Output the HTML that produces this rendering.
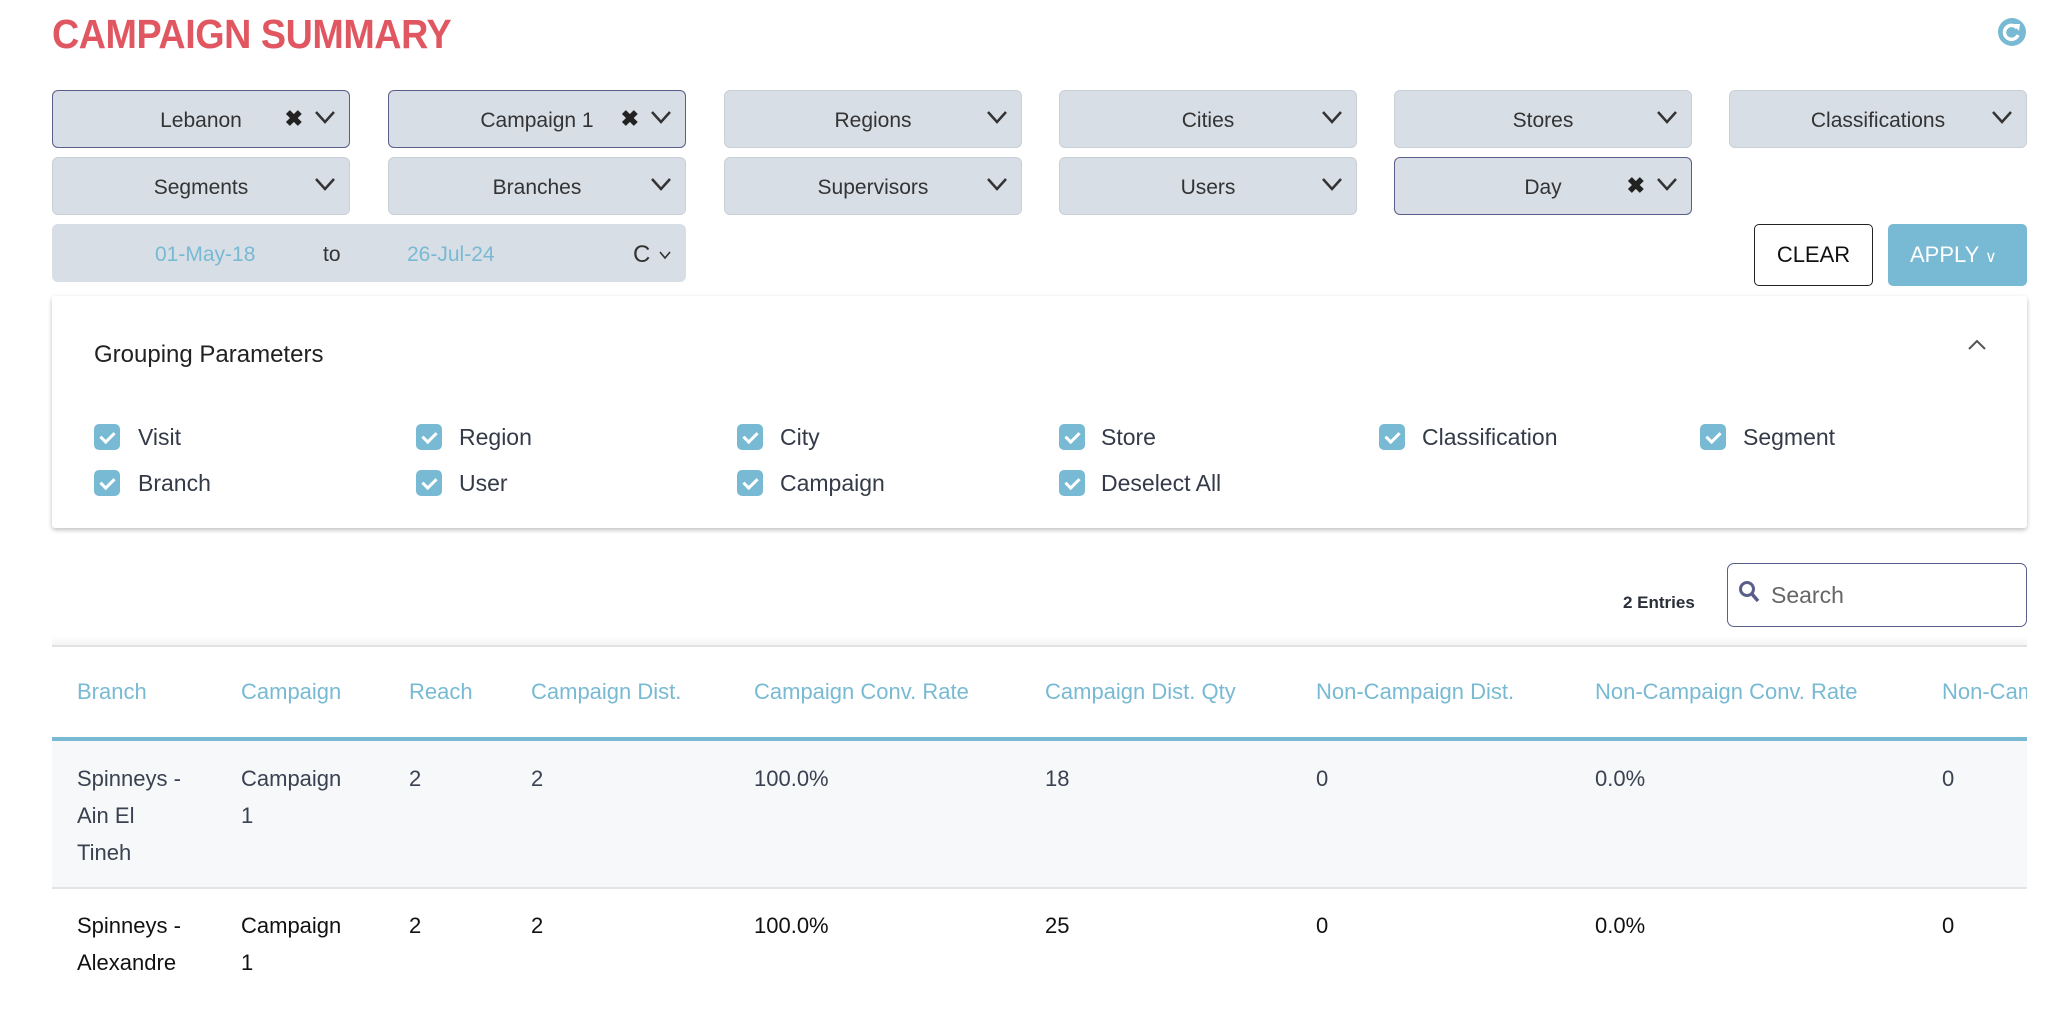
<!DOCTYPE html>
<html><head><meta charset="utf-8"><style>
*{box-sizing:border-box;margin:0;padding:0}
body{width:2056px;height:1026px;background:#fff;position:relative;overflow:hidden;font-family:"Liberation Sans",sans-serif;color:#333}
.a{position:absolute}
.title{left:52px;top:11px;font-size:41px;font-weight:bold;color:#e05762;transform:scaleX(0.92);transform-origin:left;letter-spacing:-0.5px}
.dd{position:absolute;width:298px;height:58px;background:#d8dee6;border:1px solid #c9cfd6;border-radius:6px;font-size:21px;color:#333}
.dd.sel{border-color:#5a5f8a}
.dd .t{position:absolute;left:0;right:0;top:18px;text-align:center}
.dd .ch{position:absolute;right:12px;top:18px;width:24px;height:16px}
.dd .x{position:absolute;right:46px;top:15px;font-size:22px;font-weight:bold;color:#222}
.cb{position:absolute;width:26px;height:26px;background:#78bad3;border-radius:5px}
.cb:after{content:"";position:absolute;left:9px;top:5px;width:6px;height:11px;border:solid #fff;border-width:0 3px 3px 0;transform:rotate(45deg)}
.lbl{position:absolute;font-size:23px;color:#343a48}
.th{position:absolute;top:679px;font-size:22px;color:#78bad3;white-space:nowrap}
.td{position:absolute;font-size:22px;color:#3a4150;line-height:37px;white-space:nowrap}
.td2{position:absolute;font-size:22px;color:#111;line-height:37px;white-space:nowrap}
</style></head><body>
<div class="a title">CAMPAIGN SUMMARY</div>
<svg class="a" style="left:1998px;top:18px" width="28" height="28" viewBox="0 0 28 28"><circle cx="14" cy="14" r="14" fill="#78bad3"/><path d="M19 10 A7 7 0 1 0 20 17" stroke="#fff" stroke-width="3.5" fill="none"/><path d="M15 6 L22 6 L21 13 Z" fill="#fff"/></svg>

<div class="dd sel" style="left:52px;top:90px"><div class="t">Lebanon</div><div class="x">✖</div><svg class="ch" viewBox="0 0 24 16"><path d="M3 3 L12 13 L21 3" stroke="#333" stroke-width="2.5" fill="none"/></svg></div>
<div class="dd sel" style="left:388px;top:90px"><div class="t">Campaign 1</div><div class="x">✖</div><svg class="ch" viewBox="0 0 24 16"><path d="M3 3 L12 13 L21 3" stroke="#333" stroke-width="2.5" fill="none"/></svg></div>
<div class="dd" style="left:724px;top:90px"><div class="t">Regions</div><svg class="ch" viewBox="0 0 24 16"><path d="M3 3 L12 13 L21 3" stroke="#333" stroke-width="2.5" fill="none"/></svg></div>
<div class="dd" style="left:1059px;top:90px"><div class="t">Cities</div><svg class="ch" viewBox="0 0 24 16"><path d="M3 3 L12 13 L21 3" stroke="#333" stroke-width="2.5" fill="none"/></svg></div>
<div class="dd" style="left:1394px;top:90px"><div class="t">Stores</div><svg class="ch" viewBox="0 0 24 16"><path d="M3 3 L12 13 L21 3" stroke="#333" stroke-width="2.5" fill="none"/></svg></div>
<div class="dd" style="left:1729px;top:90px"><div class="t">Classifications</div><svg class="ch" viewBox="0 0 24 16"><path d="M3 3 L12 13 L21 3" stroke="#333" stroke-width="2.5" fill="none"/></svg></div>
<div class="dd" style="left:52px;top:157px"><div class="t">Segments</div><svg class="ch" viewBox="0 0 24 16"><path d="M3 3 L12 13 L21 3" stroke="#333" stroke-width="2.5" fill="none"/></svg></div>
<div class="dd" style="left:388px;top:157px"><div class="t">Branches</div><svg class="ch" viewBox="0 0 24 16"><path d="M3 3 L12 13 L21 3" stroke="#333" stroke-width="2.5" fill="none"/></svg></div>
<div class="dd" style="left:724px;top:157px"><div class="t">Supervisors</div><svg class="ch" viewBox="0 0 24 16"><path d="M3 3 L12 13 L21 3" stroke="#333" stroke-width="2.5" fill="none"/></svg></div>
<div class="dd" style="left:1059px;top:157px"><div class="t">Users</div><svg class="ch" viewBox="0 0 24 16"><path d="M3 3 L12 13 L21 3" stroke="#333" stroke-width="2.5" fill="none"/></svg></div>
<div class="dd sel" style="left:1394px;top:157px"><div class="t">Day</div><div class="x">✖</div><svg class="ch" viewBox="0 0 24 16"><path d="M3 3 L12 13 L21 3" stroke="#333" stroke-width="2.5" fill="none"/></svg></div>
<div class="dd" style="left:52px;top:224px;width:634px;border-color:#d8dee6">
<div class="a" style="left:102px;top:18px;color:#78bad3">01-May-18</div>
<div class="a" style="left:270px;top:18px">to</div>
<div class="a" style="left:354px;top:18px;color:#78bad3">26-Jul-24</div>
<div class="a" style="left:580px;top:16px;font-size:24px">C</div>
<svg class="a" style="left:605px;top:25px" width="14" height="10" viewBox="0 0 14 10"><path d="M2 2 L7 8 L12 2" stroke="#333" stroke-width="1.6" fill="none"/></svg>
</div>
<div class="a" style="left:1754px;top:224px;width:119px;height:62px;border:1.5px solid #222;border-radius:5px;font-size:22px;color:#111;text-align:center;line-height:60px">CLEAR</div>
<div class="a" style="left:1888px;top:224px;width:139px;height:62px;background:#78bad3;border-radius:5px;font-size:22px;color:#fff;line-height:62px;padding-left:22px">APPLY <span style="font-size:16px">&#8744;</span></div>

<div class="a" style="left:52px;top:296px;width:1975px;height:232px;background:#fff;box-shadow:0 2px 5px rgba(0,0,0,0.25);border-radius:3px"></div>
<div class="a" style="left:94px;top:341px;font-size:24px;color:#222">Grouping Parameters</div>
<svg class="a" style="left:1966px;top:338px" width="22" height="14" viewBox="0 0 22 14"><path d="M3 11 L11 3 L19 11" stroke="#555" stroke-width="2" fill="none"/></svg>
<div class="cb" style="left:94px;top:424px"></div><div class="lbl" style="left:138px;top:424px">Visit</div>
<div class="cb" style="left:416px;top:424px"></div><div class="lbl" style="left:459px;top:424px">Region</div>
<div class="cb" style="left:737px;top:424px"></div><div class="lbl" style="left:780px;top:424px">City</div>
<div class="cb" style="left:1059px;top:424px"></div><div class="lbl" style="left:1101px;top:424px">Store</div>
<div class="cb" style="left:1379px;top:424px"></div><div class="lbl" style="left:1422px;top:424px">Classification</div>
<div class="cb" style="left:1700px;top:424px"></div><div class="lbl" style="left:1743px;top:424px">Segment</div>
<div class="cb" style="left:94px;top:470px"></div><div class="lbl" style="left:138px;top:470px">Branch</div>
<div class="cb" style="left:416px;top:470px"></div><div class="lbl" style="left:459px;top:470px">User</div>
<div class="cb" style="left:737px;top:470px"></div><div class="lbl" style="left:780px;top:470px">Campaign</div>
<div class="cb" style="left:1059px;top:470px"></div><div class="lbl" style="left:1101px;top:470px">Deselect All</div>

<div class="a" style="left:1623px;top:593px;font-size:17px;font-weight:bold;color:#2a2f3a">2 Entries</div>
<div class="a" style="left:1727px;top:563px;width:300px;height:64px;border:1.5px solid #5a5f8a;border-radius:7px"></div>
<svg class="a" style="left:1738px;top:580px" width="24" height="26" viewBox="0 0 24 26"><circle cx="9" cy="9" r="6.5" stroke="#5a5f8a" stroke-width="3" fill="none"/><path d="M14 14 L20 21" stroke="#5a5f8a" stroke-width="3.5"/></svg>
<div class="a" style="left:1771px;top:582px;font-size:23px;color:#666">Search</div>

<div class="a" style="left:52px;top:636px;width:1975px;height:10px;background:linear-gradient(#fff,#f3f3f3)"></div>
<div class="a" style="left:52px;top:645px;width:1975px;height:2px;background:#e2e2e2"></div>
<div class="th" style="left:77px">Branch</div>
<div class="th" style="left:241px">Campaign</div>
<div class="th" style="left:409px">Reach</div>
<div class="th" style="left:531px">Campaign Dist.</div>
<div class="th" style="left:754px">Campaign Conv. Rate</div>
<div class="th" style="left:1045px">Campaign Dist. Qty</div>
<div class="th" style="left:1316px">Non-Campaign Dist.</div>
<div class="th" style="left:1595px">Non-Campaign Conv. Rate</div>
<div class="a" style="left:1942px;top:679px;width:85px;overflow:hidden;font-size:22px;color:#78bad3;white-space:nowrap">Non-Campaign</div>
<div class="a" style="left:52px;top:737px;width:1975px;height:4px;background:#78bad3"></div>
<div class="a" style="left:52px;top:741px;width:1975px;height:147px;background:#f6f8fa"></div>
<div class="a" style="left:52px;top:887px;width:1975px;height:2px;background:#e2e4e6"></div>

<div class="td" style="left:77px;top:760px">Spinneys -<br>Ain El<br>Tineh</div>
<div class="td" style="left:241px;top:760px">Campaign<br>1</div>
<div class="td" style="left:409px;top:760px">2</div>
<div class="td" style="left:531px;top:760px">2</div>
<div class="td" style="left:754px;top:760px">100.0%</div>
<div class="td" style="left:1045px;top:760px">18</div>
<div class="td" style="left:1316px;top:760px">0</div>
<div class="td" style="left:1595px;top:760px">0.0%</div>
<div class="td" style="left:1942px;top:760px">0</div>

<div class="td2" style="left:77px;top:907px">Spinneys -<br>Alexandre</div>
<div class="td2" style="left:241px;top:907px">Campaign<br>1</div>
<div class="td2" style="left:409px;top:907px">2</div>
<div class="td2" style="left:531px;top:907px">2</div>
<div class="td2" style="left:754px;top:907px">100.0%</div>
<div class="td2" style="left:1045px;top:907px">25</div>
<div class="td2" style="left:1316px;top:907px">0</div>
<div class="td2" style="left:1595px;top:907px">0.0%</div>
<div class="td2" style="left:1942px;top:907px">0</div>
</body></html>
